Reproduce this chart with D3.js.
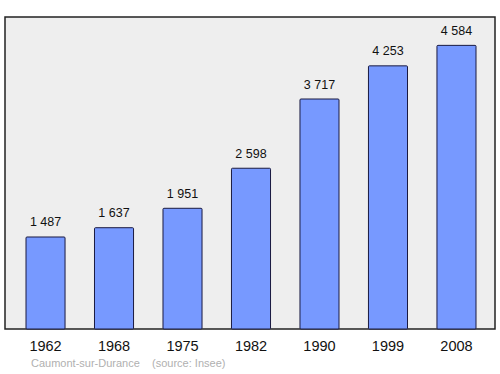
<!DOCTYPE html>
<html>
<head>
<meta charset="utf-8">
<script src="https://cdn.jsdelivr.net/npm/d3@7"></script>
<style>
  body { margin: 0; background: #fff; }
  text { font-family: "Liberation Sans", Arial, sans-serif; }
</style>
</head>
<body>
<svg id="chart"></svg>
<script>
// population by census year
const years = ["1962", "1968", "1975", "1982", "1990", "1999", "2008"];
const population = [1487, 1637, 1951, 2598, 3717, 4253, 4584];
const valueLabels = ["1 487", "1 637", "1 951", "2 598", "3 717", "4 253", "4 584"];

const width = 500, height = 374;
const panel = { left: 5, top: 17, right: 495, bottom: 329 };

const svg = d3.select("#chart").attr("width", width).attr("height", height);

svg.append("rect")
    .attr("x", panel.left).attr("y", panel.top)
    .attr("width", panel.right - panel.left)
    .attr("height", panel.bottom - panel.top)
    .attr("fill", "#eeeeee")
    .attr("stroke", "#222")
    .attr("stroke-width", 1.5);

const x = d3.scaleBand()
    .domain(years)
    .range([26, 476])
    .paddingInner(0.43)
    .paddingOuter(0);

const y = d3.scaleLinear()
    .domain([0, 4584 * 1.1])
    .range([panel.bottom, panel.top]);

const data = years.map((yr, i) => ({ year: yr, value: population[i], label: valueLabels[i] }));

svg.append("g").selectAll("rect")
    .data(data)
    .join("rect")
    .attr("x", d => x(d.year))
    .attr("y", d => y(d.value))
    .attr("width", x.bandwidth())
    .attr("height", d => y(0) - y(d.value))
    .attr("rx", 1)
    .attr("fill", "#7799ff")
    .attr("stroke", "#1a1a40")
    .attr("stroke-width", 1);

svg.append("g").selectAll("text")
    .data(data)
    .join("text")
    .attr("x", d => x(d.year) + x.bandwidth() / 2)
    .attr("y", d => y(d.value) - 10.5)
    .attr("text-anchor", "middle")
    .attr("font-size", 12.5)
    .attr("fill", "#111")
    .text(d => d.label);

// year axis, no line
const axis = svg.append("g")
    .attr("transform", `translate(0, ${panel.bottom})`)
    .call(d3.axisBottom(x).tickSize(0).tickPadding(12));
axis.select(".domain").remove();
axis.selectAll("text")
    .attr("font-size", 14.5)
    .attr("fill", "#111")
    .style("font-family", "'Liberation Sans', Arial, sans-serif");

svg.append("text")
    .attr("x", 31).attr("y", 367)
    .attr("font-size", 11)
    .attr("fill", "#b0b0b0")
    .attr("xml:space", "preserve")
    .text("Caumont-sur-Durance    (source: Insee)");
</script>
</body>
</html>
